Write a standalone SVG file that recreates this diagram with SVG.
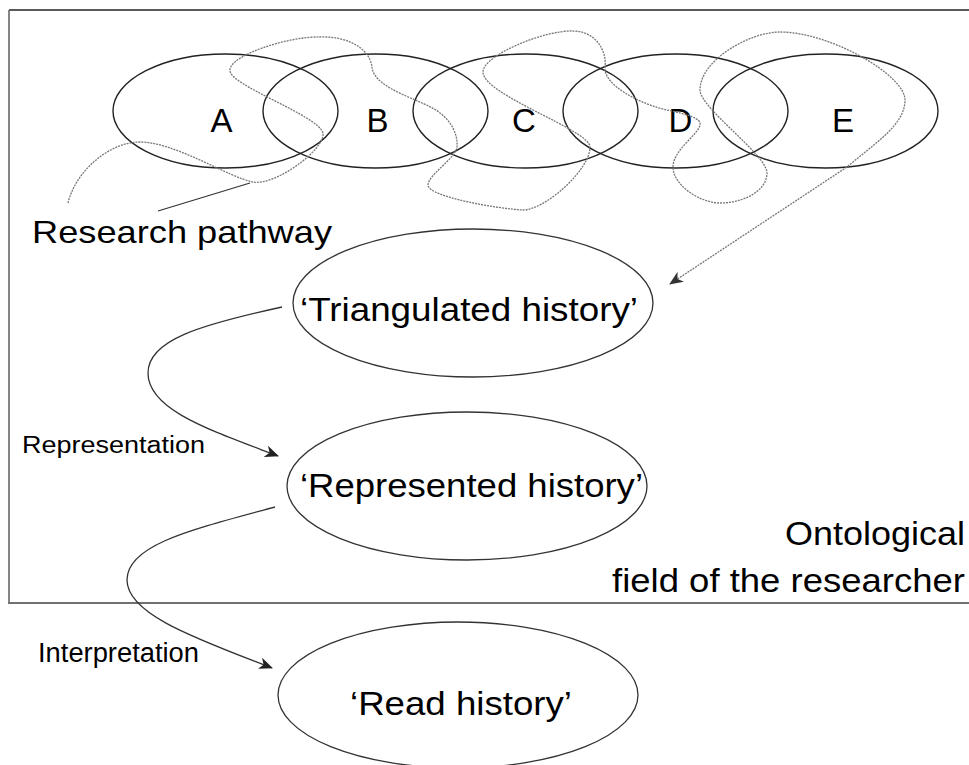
<svg xmlns="http://www.w3.org/2000/svg" width="969" height="765" viewBox="0 0 969 765">
  <defs>
    <marker id="arrow" markerUnits="userSpaceOnUse" markerWidth="14" markerHeight="12" viewBox="0 0 14 12" refX="13" refY="6" orient="auto">
      <path d="M0,0 L14,6 L0,12 L4,6 Z" fill="#222"/>
    </marker>
    <marker id="arrowDot" markerUnits="userSpaceOnUse" markerWidth="14" markerHeight="12" viewBox="0 0 14 12" refX="13" refY="6" orient="auto">
      <path d="M0,0 L14,6 L0,12 L4,6 Z" fill="#333"/>
    </marker>
  </defs>
  <style>
    text { font-family: "Liberation Sans", Arial, sans-serif; fill: #000; }
    .ell { fill: none; stroke: #333; stroke-width: 1.3; }
    .top { fill: none; stroke: #222; stroke-width: 1.4; }
    .conn { fill: none; stroke: #333; stroke-width: 1.3; }
    .dot { fill: none; stroke: #777; stroke-width: 1.3; stroke-dasharray: 2 1; }
    .big { font-size: 34px; }
    .letter { font-size: 33px; text-anchor: middle; }
  </style>
  <rect width="969" height="765" fill="#fff"/>

  <g id="frame">
    <line x1="9" y1="10" x2="969" y2="10" stroke="#222" stroke-width="1.3"/>
    <line x1="9" y1="10" x2="9" y2="603" stroke="#666" stroke-width="1.6"/>
    <line x1="8" y1="603" x2="969" y2="603" stroke="#707070" stroke-width="2.2"/>
    <text class="big" x="785" y="545" font-size="32" textLength="180" lengthAdjust="spacingAndGlyphs">Ontological</text>
    <text class="big" x="612" y="592" font-size="32" textLength="353" lengthAdjust="spacingAndGlyphs">field of the researcher</text>
  </g>

  <g id="nodeA"><ellipse class="top" cx="225.5" cy="111" rx="112.5" ry="57"/><text class="letter" x="221.5" y="132">A</text></g>
  <g id="nodeB"><ellipse class="top" cx="375.5" cy="111" rx="112.5" ry="57"/><text class="letter" x="377.5" y="132">B</text></g>
  <g id="nodeC"><ellipse class="top" cx="525.5" cy="111" rx="112.5" ry="57"/><text class="letter" x="524" y="132">C</text></g>
  <g id="nodeD"><ellipse class="top" cx="675.5" cy="111" rx="112.5" ry="57"/><text class="letter" x="680.5" y="132">D</text></g>
  <g id="nodeE"><ellipse class="top" cx="825.5" cy="111" rx="112.5" ry="57"/><text class="letter" x="843" y="132">E</text></g>

  <g id="researchPathway">
    <text x="32" y="243" font-size="32" textLength="300" lengthAdjust="spacingAndGlyphs">Research pathway</text>
  </g>

  <g id="triangulated">
    <ellipse class="ell" cx="473" cy="303" rx="180" ry="74"/>
    <text class="big" x="300" y="321" textLength="338" lengthAdjust="spacingAndGlyphs">‘Triangulated history’</text>
  </g>
  <g id="represented">
    <ellipse class="ell" cx="467" cy="486" rx="180" ry="74"/>
    <text class="big" x="300" y="497" textLength="343" lengthAdjust="spacingAndGlyphs">‘Represented history’</text>
  </g>
  <g id="read">
    <ellipse class="ell" cx="458" cy="695" rx="180" ry="73"/>
    <text class="big" x="350" y="715" textLength="222" lengthAdjust="spacingAndGlyphs">‘Read history’</text>
  </g>

  <g id="labels">
    <text x="22" y="453" font-size="23" textLength="183" lengthAdjust="spacingAndGlyphs">Representation</text>
    <text x="38" y="662" font-size="27" textLength="161" lengthAdjust="spacingAndGlyphs">Interpretation</text>
  </g>

  <g id="connectors">
    <path class="dot" marker-end="url(#arrowDot)" d="M68,203 C76,170 110,142 140,142 C175,142 230,178 253,182 C275,186 325,150 323,133 C318,115 228,85 230,70 C230,55 290,36 320,37 C350,36 370,50 372,67 C374,90 425,100 440,113 C452,122 458,135 457,147 C456,158 428,175 428,185 C428,197 500,209 523,210 C545,210 590,170 590,147 C590,130 483,95 483,72 C483,55 545,30 573,31 C595,31 607,50 605,67 C603,85 640,104 667,110 C685,114 702,118 700,125 C698,135 673,150 673,167 C673,185 700,203 720,203 C745,203 767,190 767,173 C767,155 700,108 700,90 C700,60 750,32 780,32 C830,32 905,75 905,100 C905,125 875,143 847,167 L670,284"/>
    <line class="conn" x1="158" y1="211" x2="250" y2="183"/>
    <path class="conn" marker-end="url(#arrow)" d="M282,307 C200,325 148,340 148,373 C148,410 210,430 278,456"/>
    <path class="conn" marker-end="url(#arrow)" d="M275,507 C190,530 127,545 127,580 C127,615 200,640 272,668"/>
  </g>
</svg>
